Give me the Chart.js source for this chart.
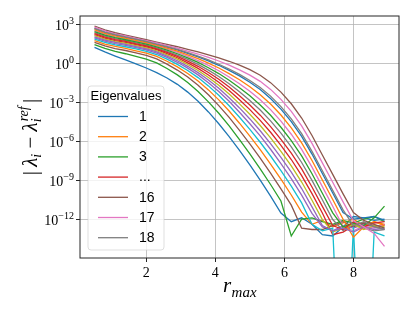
<!DOCTYPE html>
<html>
<head>
<meta charset="utf-8">
<script src="https://cdn.jsdelivr.net/npm/chart.js@4.4.1/dist/chart.umd.min.js"></script>
<style>
  html, body { margin: 0; padding: 0; background: #fff; }
</style>
</head>
<body>
<canvas id="chart" width="415" height="312"></canvas>
<script>
// r_max grid and log10 |lambda_i - lambda_i^ref| for each eigenvalue
const rMax = [0.5, 0.8, 1.1, 1.4, 1.7, 2.0, 2.3, 2.6, 2.9, 3.2, 3.5, 3.8, 4.1, 4.4, 4.7,
  5.0, 5.3, 5.6, 5.9, 6.2, 6.5, 6.8, 7.1, 7.4, 7.7, 8.0, 8.3, 8.6, 8.9];

const eig1 = [1.25, 0.90, 0.58, 0.28, -0.02, -0.34, -0.70, -1.11, -1.60, -2.20, -2.91, -3.73, -4.64, -5.63, -6.69, -7.81, -8.99, -10.23, -11.53, -12.2, -11.9, -12.4, -13.2, -13.3, -12.6, -11.8, -11.9, -12.1, -12.0];
const eig2 = [1.78, 1.51, 1.32, 1.17, 0.99, 0.81, 0.55, 0.18, -0.25, -0.76, -1.35, -2.03, -2.80, -3.66, -4.60, -5.59, -6.64, -7.75, -8.92, -10.14, -11.46, -12.4, -12.1, -12.6, -12.3, -12.0, -12.5, -12.2, -12.4];
const eig3 = [1.46, 1.17, 0.94, 0.76, 0.55, 0.35, 0.05, -0.38, -0.87, -1.46, -2.15, -2.95, -3.83, -4.81, -5.86, -6.97, -8.12, -9.33, -10.60, -13.3, -12.0, -11.9, -12.2, -12.4, -12.1, -12.3, -12.0, -11.8, -12.2];
const eig4 = [2.23, 1.97, 1.78, 1.64, 1.46, 1.29, 1.07, 0.77, 0.45, 0.06, -0.37, -0.88, -1.44, -2.08, -2.79, -3.55, -4.38, -5.30, -6.31, -7.40, -8.64, -10.03, -11.53, -13.2, -13.0, -12.5, -12.3, -12.6, -12.4];
const eig5 = [1.99, 1.73, 1.54, 1.40, 1.23, 1.06, 0.81, 0.48, 0.10, -0.35, -0.87, -1.47, -2.15, -2.91, -3.75, -4.64, -5.58, -6.61, -7.71, -8.87, -10.15, -11.56, -12.6, -12.9, -12.5, -12.7, -12.4, -12.6, -12.5];
const eig6 = [1.64, 1.37, 1.16, 1.01, 0.82, 0.63, 0.36, -0.04, -0.50, -1.04, -1.68, -2.41, -3.24, -4.15, -5.15, -6.19, -7.29, -8.45, -9.66, -10.92, -12.7, -12.8, -12.8, -12.5, -12.2, -12.6, -12.3, -12.5, -12.8];
const eig7 = [2.54, 2.27, 2.07, 1.91, 1.73, 1.56, 1.36, 1.12, 0.86, 0.56, 0.23, -0.14, -0.55, -1.03, -1.56, -2.14, -2.79, -3.55, -4.44, -5.45, -6.62, -7.99, -9.49, -11.01, -12.6, -12.9, -12.5, -12.7, -12.4];
const eig8 = [2.39, 2.12, 1.93, 1.78, 1.60, 1.43, 1.22, 0.95, 0.66, 0.32, -0.06, -0.50, -0.99, -1.55, -2.17, -2.84, -3.58, -4.42, -5.37, -6.43, -7.63, -9.01, -10.51, -12.03, -12.9, -12.4, -12.7, -12.9, -12.8];
const eig9 = [2.15, 1.89, 1.70, 1.56, 1.39, 1.22, 0.99, 0.68, 0.34, -0.07, -0.53, -1.07, -1.67, -2.35, -3.11, -3.91, -4.78, -5.73, -6.77, -7.89, -9.14, -10.54, -12.04, -13.0, -12.7, -12.4, -12.8, -12.5, -12.6];
const eig10 = [1.89, 1.63, 1.44, 1.30, 1.13, 0.95, 0.70, 0.34, -0.06, -0.53, -1.08, -1.72, -2.44, -3.25, -4.14, -5.07, -6.07, -7.13, -8.26, -9.46, -10.75, -12.4, -12.9, -12.7, -30, -12.6, -30, -13.0, -13.3];
const eig11 = [2.69, 2.41, 2.20, 2.03, 1.86, 1.68, 1.49, 1.27, 1.05, 0.79, 0.52, 0.21, -0.13, -0.52, -0.95, -1.44, -2.00, -2.69, -3.51, -4.47, -5.61, -6.98, -8.48, -9.98, -11.50, -12.0, -11.9, -11.8, -12.1];
const eig12 = [2.62, 2.34, 2.13, 1.97, 1.80, 1.62, 1.42, 1.20, 0.96, 0.68, 0.38, 0.04, -0.34, -0.77, -1.25, -1.79, -2.40, -3.12, -3.97, -4.96, -6.12, -7.48, -8.98, -10.49, -12.01, -13.4, -12.6, -12.2, -12.5];
const eig13 = [2.46, 2.19, 2.00, 1.84, 1.67, 1.50, 1.29, 1.04, 0.76, 0.44, 0.09, -0.32, -0.77, -1.29, -1.86, -2.49, -3.19, -3.99, -4.91, -5.94, -7.12, -8.50, -10.00, -11.52, -12.6, -12.3, -12.5, -11.9, -11.0];
const eig14 = [2.31, 2.05, 1.85, 1.71, 1.53, 1.36, 1.14, 0.86, 0.56, 0.19, -0.21, -0.69, -1.21, -1.81, -2.48, -3.20, -3.98, -4.86, -5.84, -6.91, -8.13, -9.52, -11.02, -12.5, -12.8, -12.2, -12.6, -12.3, -12.2];
const eig15 = [2.07, 1.81, 1.63, 1.49, 1.31, 1.14, 0.90, 0.58, 0.22, -0.21, -0.70, -1.27, -1.91, -2.63, -3.42, -4.27, -5.18, -6.17, -7.24, -8.38, -9.64, -11.05, -12.5, -12.9, -12.7, -13.0, -12.6, -12.8, -12.7];
const eig16 = [2.90, 2.60, 2.38, 2.20, 2.02, 1.84, 1.66, 1.48, 1.30, 1.10, 0.90, 0.68, 0.45, 0.18, -0.12, -0.47, -0.90, -1.47, -2.20, -3.10, -4.20, -5.55, -7.05, -8.55, -10.05, -11.50, -12.1, -12.4, -12.7];
const eig17 = [2.81, 2.52, 2.30, 2.13, 1.95, 1.77, 1.59, 1.39, 1.19, 0.97, 0.74, 0.48, 0.20, -0.12, -0.48, -0.89, -1.37, -1.99, -2.76, -3.69, -4.81, -6.16, -7.66, -9.16, -10.67, -12.13, -12.6, -13.1, -14.1];
const eig18 = [2.72, 2.43, 2.23, 2.06, 1.88, 1.71, 1.51, 1.30, 1.09, 0.84, 0.57, 0.28, -0.05, -0.42, -0.83, -1.30, -1.84, -2.51, -3.32, -4.27, -5.41, -6.77, -8.27, -9.78, -11.29, -12.5, -12.2, -12.6, -12.8];

const legendLabels = ['1', '2', '3', '...', '', '', '', '', '', '', '', '', '', '', '', '16', '17', '18'];
const xTicks = [2, 4, 6, 8];
const yTickExps = [3, 0, -3, -6, -9, -12];

const series = [eig1, eig2, eig3, eig4, eig5, eig6, eig7, eig8, eig9, eig10, eig11, eig12, eig13, eig14, eig15, eig16, eig17, eig18];
const tab10 = ['#1f77b4', '#ff7f0e', '#2ca02c', '#d62728', '#9467bd', '#8c564b', '#e377c2', '#7f7f7f', '#bcbd22', '#17becf'];

const serif = '"Liberation Serif", "DejaVu Serif", serif';
const sans = '"Liberation Sans", "DejaVu Sans", sans-serif';

const datasets = series.map((logs, i) => ({
  label: legendLabels[i],
  data: logs.map((v, j) => ({ x: rMax[j], y: Math.pow(10, v) })),
  borderColor: tab10[i % 10],
  backgroundColor: tab10[i % 10],
  borderWidth: 1.3,
  pointRadius: 0,
  tension: 0,
  fill: false,
  order: series.length - i
}));

function drawPower(ctx, exp, xRight, y) {
  const sup = exp < 0 ? '\u2212' + (-exp) : String(exp);
  ctx.textAlign = 'left';
  ctx.textBaseline = 'alphabetic';
  ctx.font = '10px ' + serif;
  const ws = ctx.measureText(sup).width;
  ctx.fillText(sup, xRight - ws, y - 0.5);
  ctx.font = '14px ' + serif;
  const wb = ctx.measureText('10').width;
  ctx.fillText('10', xRight - ws - wb, y + 5.5);
}

function drawYTitle(ctx, cx, cy) {
  const big = '21px ' + serif;
  const bigI = 'italic 21px ' + serif;
  const small = 'italic 14px ' + serif;
  ctx.save();
  ctx.translate(cx, cy);
  ctx.rotate(-Math.PI / 2);
  ctx.textBaseline = 'alphabetic';
  ctx.textAlign = 'left';
  const w = (t, f) => { ctx.font = f; return ctx.measureText(t).width; };
  const parts = [
    ['|', big, 0], ['\u2009', big, 0], ['\u03bb', bigI, 0], ['i', small, 4],
    [' \u2212 ', big, 0], ['\u03bb', bigI, 0]
  ];
  let total = 0;
  parts.forEach(p => { total += w(p[0], p[1]); });
  const refW = w('ref', small);
  total += refW + w('\u2009', big) + w('|', big);
  let x = -total / 2;
  const base = 7;
  parts.forEach(p => {
    ctx.font = p[1];
    ctx.fillText(p[0], x, base + p[2]);
    x += ctx.measureText(p[0]).width;
  });
  ctx.font = small;
  ctx.fillText('ref', x + 1, base - 9);
  ctx.fillText('i', x, base + 4);
  x += refW + w('\u2009', big);
  ctx.font = big;
  ctx.fillText('|', x, base);
  ctx.restore();
}

const decorations = {
  id: 'decorations',
  afterDatasetsDraw(chart) {
    const { ctx, chartArea: a } = chart;
    ctx.save();
    ctx.strokeStyle = '#262626';
    ctx.lineWidth = 1;
    ctx.strokeRect(a.left, a.top, a.right - a.left, a.bottom - a.top);
    ctx.restore();
  },
  afterDraw(chart) {
    const { ctx, chartArea: a, scales } = chart;
    ctx.save();
    ctx.fillStyle = '#000';

    // x tick labels
    ctx.font = '14px ' + serif;
    ctx.textAlign = 'center';
    ctx.textBaseline = 'top';
    xTicks.forEach(v => {
      ctx.fillText(String(v), scales.x.getPixelForValue(v), a.bottom + 8);
    });

    // y tick labels
    yTickExps.forEach(e => {
      drawPower(ctx, e, a.left - 6, scales.y.getPixelForValue(Math.pow(10, e)));
    });

    // x title r_max
    ctx.textAlign = 'left';
    ctx.textBaseline = 'alphabetic';
    ctx.font = 'italic 21px ' + serif;
    const wr = ctx.measureText('r').width;
    ctx.font = 'italic 15px ' + serif;
    const wm = ctx.measureText('max').width;
    const cx = (a.left + a.right) / 2;
    const x0 = cx - (wr + wm) / 2;
    ctx.font = 'italic 21px ' + serif;
    ctx.fillText('r', x0, a.bottom + 34);
    ctx.font = 'italic 15px ' + serif;
    ctx.fillText('max', x0 + wr + 0.5, a.bottom + 39);

    // y title
    drawYTitle(ctx, 30, (a.top + a.bottom) / 2);

    // legend
    const entries = chart.data.datasets.filter(d => d.label);
    const bx = a.left + 8, by = a.top + 70, bw = 76, bh = 164;
    ctx.beginPath();
    ctx.roundRect(bx, by, bw, bh, 3);
    ctx.fillStyle = 'rgba(255,255,255,0.8)';
    ctx.fill();
    ctx.strokeStyle = 'rgba(204,204,204,0.8)';
    ctx.lineWidth = 0.8;
    ctx.stroke();

    ctx.fillStyle = '#000';
    ctx.font = '13px ' + sans;
    ctx.textAlign = 'center';
    ctx.textBaseline = 'alphabetic';
    ctx.fillText('Eigenvalues', bx + bw / 2, by + 14);

    ctx.textAlign = 'left';
    ctx.textBaseline = 'middle';
    entries.forEach((d, k) => {
      const y = by + 30.5 + k * 20.2;
      ctx.strokeStyle = d.borderColor;
      ctx.lineWidth = 1.3;
      ctx.beginPath();
      ctx.moveTo(bx + 10, y);
      ctx.lineTo(bx + 40, y);
      ctx.stroke();
      ctx.fillStyle = '#000';
      ctx.font = '14px ' + sans;
      ctx.fillText(d.label, bx + 51, y + 0.5);
    });
    ctx.restore();
  }
};

const gridStyle = {
  color: 'rgba(176,176,176,0.75)',
  lineWidth: 1,
  drawTicks: true,
  tickLength: 4,
  tickColor: '#262626',
  tickWidth: 1
};

new Chart(document.getElementById('chart').getContext('2d'), {
  type: 'line',
  data: { datasets },
  options: {
    responsive: false,
    animation: false,
    layout: { padding: { left: 76, right: 16, top: 16, bottom: 50 } },
    plugins: { legend: { display: false }, tooltip: { enabled: false } },
    scales: {
      x: {
        type: 'linear',
        min: 0.08,
        max: 9.32,
        afterBuildTicks: s => { s.ticks = xTicks.map(v => ({ value: v })); },
        ticks: { display: false },
        grid: gridStyle,
        border: { display: false }
      },
      y: {
        type: 'logarithmic',
        min: 1e-15,
        max: 4.7e3,
        afterBuildTicks: s => { s.ticks = yTickExps.map(e => ({ value: Math.pow(10, e) })); },
        ticks: { display: false },
        grid: gridStyle,
        border: { display: false }
      }
    }
  },
  plugins: [decorations]
});
</script>
</body>
</html>
